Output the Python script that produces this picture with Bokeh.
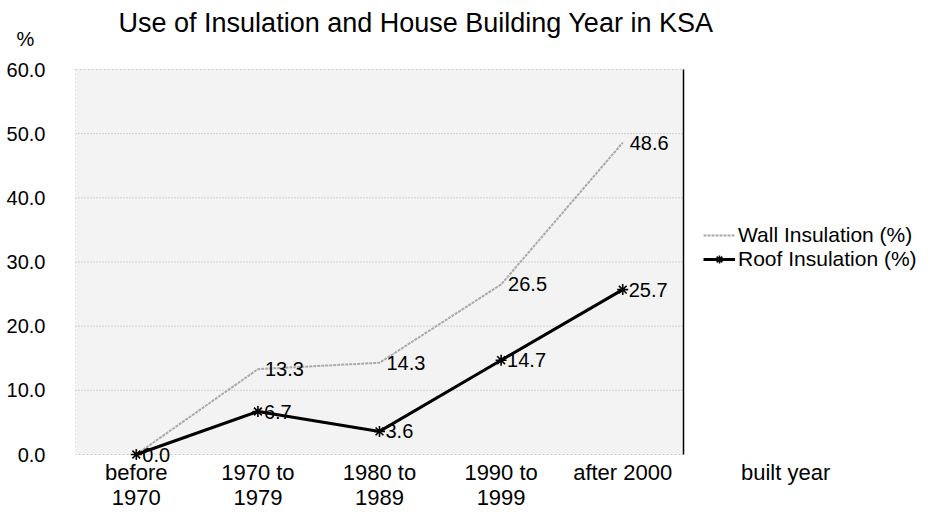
from bokeh.plotting import figure
from bokeh.models import (ColumnDataSource, LabelSet, Label, Legend, LegendItem, BoxAnnotation,
                          FixedTicker, NumeralTickFormatter, Range1d)
from bokeh.core.properties import value
from bokeh.embed import file_html
from bokeh.resources import INLINE

categories = ["before\n1970", "1970 to\n1979", "1980 to\n1989", "1990 to\n1999", "after 2000"]
wall = [0.0, 13.3, 14.3, 26.5, 48.6]
roof = [0.0, 6.7, 3.6, 14.7, 25.7]
y_ticks = [0, 10, 20, 30, 40, 50, 60]
series_names = ["Wall Insulation (%)", "Roof Insulation (%)"]
x_title = "built year"
y_unit = "%"
chart_title = "Use of Insulation and House Building Year in KSA"

FONT = "Liberation Sans"
n = len(categories)
xs = [i + 0.5 for i in range(n)]
x_title_pos = n + 0.84           # where the "built year" caption sits, right of the plot area
y_unit_pos = y_ticks[-1] + 4.8   # where the "%" caption sits, above the top tick
px_per_unit = 385 / y_ticks[-1]  # plot area is 385 px tall
y_top = 454 / px_per_unit        # room above the plot area for the title
y_bottom = -9 / px_per_unit      # small room below zero so the "0.0" label is not cut

p = figure(width=928, height=520, output_backend="svg", toolbar_location=None, title=None,
           x_range=Range1d(0, n * 853 / 608), y_range=Range1d(y_bottom, y_top),
           min_border_left=75, min_border_right=0, min_border_top=0, min_border_bottom=57)
p.background_fill_color = "white"
p.border_fill_color = "white"
p.outline_line_color = None
p.xgrid.grid_line_color = None
p.ygrid.grid_line_color = None

# plot area
p.add_layout(BoxAnnotation(left=0, right=n, bottom=y_ticks[0], top=y_ticks[-1],
                           fill_color="#f3f3f3", fill_alpha=1, line_color="#555555",
                           line_dash="2 2", line_width=1, level="underlay"))
grid = y_ticks[1:-1]
p.segment(x0=[0] * len(grid), x1=[n] * len(grid), y0=grid, y1=grid,
          line_color="#9a9a9a", line_dash="1 2", line_alpha=0.8, line_width=1)
p.segment(x0=[n], x1=[n], y0=[y_ticks[0]], y1=[y_ticks[-1]], line_color="black", line_width=1.5)

# axes
p.yaxis.ticker = FixedTicker(ticks=y_ticks + [y_unit_pos])
p.yaxis.formatter = NumeralTickFormatter(format="0.0")
p.yaxis.major_label_overrides = {y_unit_pos: y_unit + "\u00a0\u00a0"}
p.xaxis.ticker = FixedTicker(ticks=xs + [x_title_pos])
overrides = {x: c for x, c in zip(xs, categories)}
overrides[x_title_pos] = x_title
p.xaxis.major_label_overrides = overrides
for ax in (p.xaxis, p.yaxis):
    ax.axis_line_color = None
    ax.major_tick_line_color = None
    ax.minor_tick_line_color = None
    ax.major_tick_out = 0
    ax.major_tick_in = 0
    ax.minor_tick_out = 0
    ax.minor_tick_in = 0
    ax.major_label_text_font = FONT
    ax.major_label_text_color = "black"
p.yaxis.major_label_text_font_size = "20px"
p.xaxis.major_label_text_font_size = "22px"
p.xaxis.major_label_text_line_height = 1.02
p.yaxis.major_label_standoff = 30
p.xaxis.major_label_standoff = -4

src = ColumnDataSource(dict(x=xs, wall=wall, roof=roof,
                            wall_txt=[""] + ["%.1f" % v for v in wall[1:]],
                            roof_txt=["%.1f" % v for v in roof]))

wl = p.line("x", "wall", source=src, line_color="#aaaaaa", line_width=2, line_dash="3 1")
rl = p.line("x", "roof", source=src, line_color="black", line_width=3)
rm = p.scatter("x", "roof", source=src, marker="asterisk", size=11, line_color="black",
               line_width=1.6)

p.add_layout(LabelSet(x="x", y="wall", text="wall_txt", source=src, x_offset=7,
                      text_baseline="middle", text_font=value(FONT), text_font_size="20px",
                      text_color="black"))
p.add_layout(LabelSet(x="x", y="roof", text="roof_txt", source=src, x_offset=6, y_offset=0,
                      text_baseline="middle", text_font=value(FONT), text_font_size="20px",
                      text_color="black"))

def make_legend(label, renderers, loc):
    lg = Legend(items=[LegendItem(label=label, renderers=renderers)], location=loc)
    lg.background_fill_alpha = 0
    lg.border_line_color = None
    lg.padding = 0
    lg.margin = 0
    lg.spacing = 0
    lg.glyph_width = 32
    lg.glyph_height = 20
    lg.label_standoff = 3
    lg.label_text_font = FONT
    lg.label_text_font_size = "21px"
    lg.label_text_color = "black"
    return lg

p.add_layout(make_legend(series_names[0], [wl], (628, 216)))
p.add_layout(make_legend(series_names[1], [rl, rm], (628, 192)))

p.add_layout(Label(x=0.354, y=(454 - 22) / px_per_unit, text=chart_title, text_font=FONT,
                   text_font_size="27px", text_baseline="middle", text_color="black"))

open("out.html", "w").write(file_html(p, INLINE))
